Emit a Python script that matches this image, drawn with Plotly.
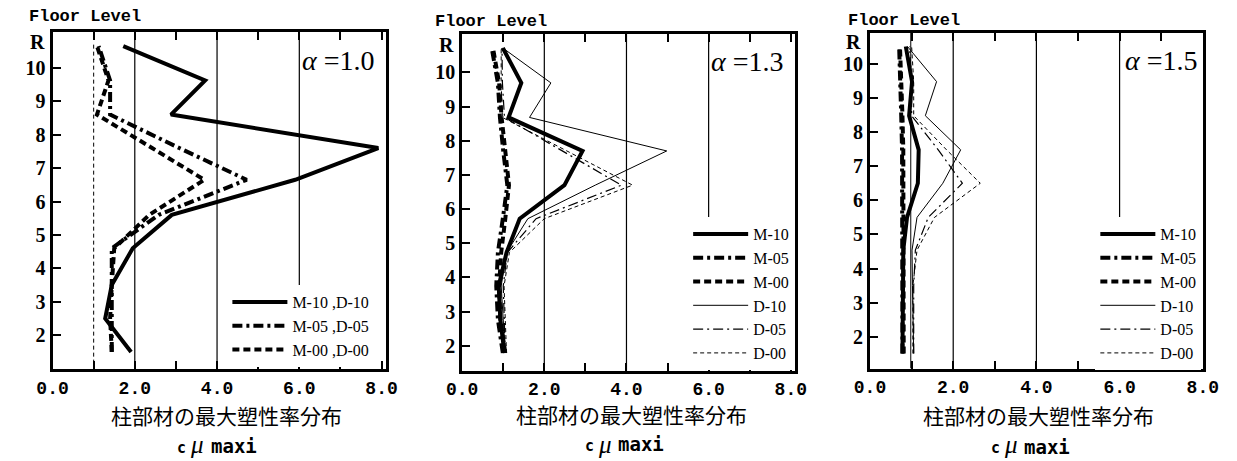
import plotly.graph_objects as go

W, H = 1237, 461

# ---------------- data ----------------
# panel alpha = 1.0  (legend: combined M/D)
lv_a10 = [1.5, 2.5, 3.5, 4.6, 5.6, 6.65, 7.6, 8.6, 9.62, 10.65]
m10_a10 = [1.91, 1.28, 1.44, 1.95, 2.90, 5.90, 7.92, 2.88, 3.71, 1.72]
m05_a10 = [1.44, 1.44, 1.44, 1.44, 2.58, 4.72, 3.08, 1.40, 1.40, 1.12]
m00_a10 = [1.44, 1.40, 1.44, 1.50, 2.35, 3.69, 2.42, 1.08, 1.36, 1.08]
ref_lv_a10 = [1.15, 10.75]
ref_mu_a10 = [1.0, 1.0]

# panel alpha = 1.3
lv_a13 = [1.79, 2.77, 3.75, 4.73, 5.72, 6.70, 7.70, 8.68, 9.69, 10.71]
m10_a13 = [1.03, 0.93, 0.89, 1.08, 1.40, 2.49, 2.93, 1.13, 1.44, 0.99]
m05_a13 = [0.99, 0.87, 0.83, 0.87, 0.99, 1.10, 1.00, 0.92, 0.87, 0.72]
m00_a13 = [1.05, 0.93, 0.90, 0.95, 1.05, 1.14, 1.05, 0.96, 0.90, 0.75]
d10_a13 = [1.05, 1.00, 0.95, 1.08, 1.60, 3.24, 4.98, 1.64, 2.16, 0.99]
d05_a13 = [1.05, 1.02, 1.00, 1.10, 1.80, 3.88, 2.45, 1.03, 0.98, 0.97]
d00_a13 = [1.08, 1.05, 1.02, 1.15, 2.00, 4.15, 2.55, 0.98, 0.95, 0.95]

# panel alpha = 1.5
lv_a15 = [1.51, 2.50, 3.50, 4.54, 5.50, 6.50, 7.48, 8.48, 9.48, 10.51]
m10_a15 = [0.78, 0.78, 0.78, 0.80, 0.89, 1.15, 1.17, 0.94, 1.01, 0.86]
m05_a15 = [0.78, 0.78, 0.77, 0.77, 0.77, 0.77, 0.77, 0.75, 0.73, 0.70]
m00_a15 = [0.81, 0.81, 0.80, 0.80, 0.80, 0.80, 0.80, 0.78, 0.76, 0.72]
d10_a15 = [1.05, 1.03, 1.02, 1.01, 1.13, 1.75, 2.18, 1.33, 1.60, 0.90]
d05_a15 = [1.05, 1.05, 1.05, 1.09, 1.40, 2.22, 1.64, 1.00, 1.00, 0.95]
d00_a15 = [1.03, 1.03, 1.03, 1.13, 1.55, 2.65, 1.84, 1.05, 1.05, 1.00]
ref_lv_a15 = [1.07, 10.92]
ref_mu_a15 = [0.98, 0.98]

# axes / labels
x_tick_vals = [0, 1, 2, 3, 4, 5, 6, 7, 8]
x_tick_text = ["0.0", "", "2.0", "", "4.0", "", "6.0", "", "8.0"]
grid_mu = [2, 4, 6]
y_tick_vals = [2, 3, 4, 5, 6, 7, 8, 9, 10]
y_tick_text = ["2", "3", "4", "5", "6", "7", "8", "9", "10"]
alpha_labels = ["1.0", "1.3", "1.5"]
x_title = "柱部材の最大塑性率分布"
y_title = "Floor Level"

# ---------------- layout helpers ----------------
def px(x):
    return x / W

def py(y):
    return 1 - y / H

panels = [
    dict(xd=[37.5, 379.5], yd=[32, 369], xr=[0, 8.1], yr=[0.99, 11.07]),
    dict(xd=[458.0, 800.0], yd=[34, 370.5], xr=[0, 8.11], yr=[1.28, 11.12]),
    dict(xd=[876.7, 1218.3], yd=[32.5, 368.5], xr=[0, 8.0], yr=[1.07, 10.92]),
]

fig = go.Figure()

SOLID_THICK = dict(color="black", width=4)
DASHDOT_THICK = dict(color="black", width=4, dash="10px,4px,3px,4px")
DASH_THICK = dict(color="black", width=4, dash="7px,4px")
SOLID_THIN = dict(color="black", width=1)
DASHDOT_THIN = dict(color="black", width=1.2, dash="10px,4px,2px,4px")
DASH_THIN = dict(color="black", width=1, dash="4px,3px")


def add(x, y, name, line, k, show=True):
    sfx = "" if k == 1 else str(k)
    fig.add_trace(go.Scatter(
        x=x, y=y, mode="lines", name=name, line=line,
        xaxis="x" + sfx, yaxis="y" + sfx,
        legend="legend" + sfx, showlegend=show, hoverinfo="skip"))

# panel 1
add(ref_mu_a10, ref_lv_a10, "ref", DASH_THIN, 1, show=False)
add(m10_a10, lv_a10, "M-10 ,D-10", SOLID_THICK, 1)
add(m05_a10, lv_a10, "M-05 ,D-05", DASHDOT_THICK, 1)
add(m00_a10, lv_a10, "M-00 ,D-00", DASH_THICK, 1)

# panel 2
add(m10_a13, lv_a13, "M-10", SOLID_THICK, 2)
add(m05_a13, lv_a13, "M-05", DASHDOT_THICK, 2)
add(m00_a13, lv_a13, "M-00", DASH_THICK, 2)
add(d10_a13, lv_a13, "D-10", SOLID_THIN, 2)
add(d05_a13, lv_a13, "D-05", DASHDOT_THIN, 2)
add(d00_a13, lv_a13, "D-00", DASH_THIN, 2)

# panel 3
add(ref_mu_a15, ref_lv_a15, "ref", SOLID_THIN, 3, show=False)
add(m10_a15, lv_a15, "M-10", SOLID_THICK, 3)
add(m05_a15, lv_a15, "M-05", DASHDOT_THICK, 3)
add(m00_a15, lv_a15, "M-00", DASH_THICK, 3)
add(d10_a15, lv_a15, "D-10", SOLID_THIN, 3)
add(d05_a15, lv_a15, "D-05", DASHDOT_THIN, 3)
add(d00_a15, lv_a15, "D-00", DASH_THIN, 3)

layout = dict(
    width=W, height=H, margin=dict(l=0, r=0, t=0, b=0),
    paper_bgcolor="white", plot_bgcolor="white",
    showlegend=True,
)

shapes = []
annotations = []
legend_pos = [
    dict(x=217, y=285),
    dict(x=690, y=217),
    dict(x=1108, y=217),
]
for i, p in enumerate(panels):
    k = i + 1
    sfx = "" if k == 1 else str(k)
    layout["xaxis" + sfx] = dict(
        domain=[px(p["xd"][0]), px(p["xd"][1])], range=p["xr"],
        anchor="y" + sfx, showline=True, linewidth=3, linecolor="black",
        mirror="ticks", tickmode="array", tickvals=x_tick_vals,
        ticktext=x_tick_text, ticks="inside", ticklen=8, tickwidth=1.5,
        tickcolor="black", showgrid=False, zeroline=False,
        tickfont=dict(family="Liberation Mono", size=18, color="black", weight="bold"),
        fixedrange=True,
    )
    layout["yaxis" + sfx] = dict(
        domain=[py(p["yd"][1]), py(p["yd"][0])], range=p["yr"],
        anchor="x" + sfx, showline=True, linewidth=3, linecolor="black",
        mirror=True, tickmode="array", tickvals=y_tick_vals,
        ticktext=y_tick_text, ticks="inside", ticklen=8, tickwidth=1.5,
        tickcolor="black", showgrid=False, zeroline=False,
        tickfont=dict(family="Liberation Serif", size=20, color="black", weight="bold"),
        fixedrange=True,
    )
    for g in grid_mu:
        shapes.append(dict(type="line", xref="x" + sfx, yref="y" + sfx + " domain",
                           x0=g, x1=g, y0=0, y1=1, layer="below",
                           line=dict(color="black", width=1.2)))
    lp = legend_pos[i]
    layout["legend" + sfx] = dict(
        x=px(lp["x"]), y=py(lp["y"]), xanchor="left", yanchor="top",
        bgcolor="white", borderwidth=0, tracegroupgap=0, itemwidth=55,
        font=dict(family="Liberation Serif", size=16, color="black"),
    )

# text annotations
fl_pos = [(11.7, 16.7), (428.3, 21.7), (851.7, 20.0)]
r_pos = [(31.5, 42.0), (452.0, 45.0), (869.5, 41.7)]
al_pos = [(371.0, 60.0), (790.0, 61.7), (1215.0, 60.0)]
tt_pos = [(215.8, 414.5), (632.3, 414.0), (1049.8, 414.5)]
cm_start = [(165.0, 446.0), (583.3, 444.0), (1000.0, 446.5)]


def ann(text, x, y, xanchor, size, family, **kw):
    annotations.append(dict(text=text, x=px(x), y=py(y), xref="paper", yref="paper",
                            xanchor=xanchor, yanchor="middle", showarrow=False,
                            font=dict(family=family, size=size, color="black"), **kw))


for i in range(3):
    ann("<b>" + y_title + "</b>", fl_pos[i][0], fl_pos[i][1], "left", 17, "Liberation Mono")
    ann("<b>R</b>", r_pos[i][0], r_pos[i][1], "right", 20, "Liberation Serif")
    ann("<i>α</i> =" + alpha_labels[i], al_pos[i][0], al_pos[i][1], "right", 28, "Liberation Serif")
    ann(x_title, tt_pos[i][0], tt_pos[i][1], "center", 21, "Noto Sans CJK JP")
    sx, sy = cm_start[i]
    ann("<b>c</b>", sx + 5, sy + 1.5, "center", 15, "DejaVu Sans Mono")
    ann("<i>μ</i>", sx + 21, 444.5, "center", 25, "Liberation Serif")
    ann("<b>maxi</b>", sx + 33, sy, "left", 19, "DejaVu Sans Mono")

layout["shapes"] = shapes
layout["annotations"] = annotations
fig.update_layout(**layout)
fig.write_html("out.html")
